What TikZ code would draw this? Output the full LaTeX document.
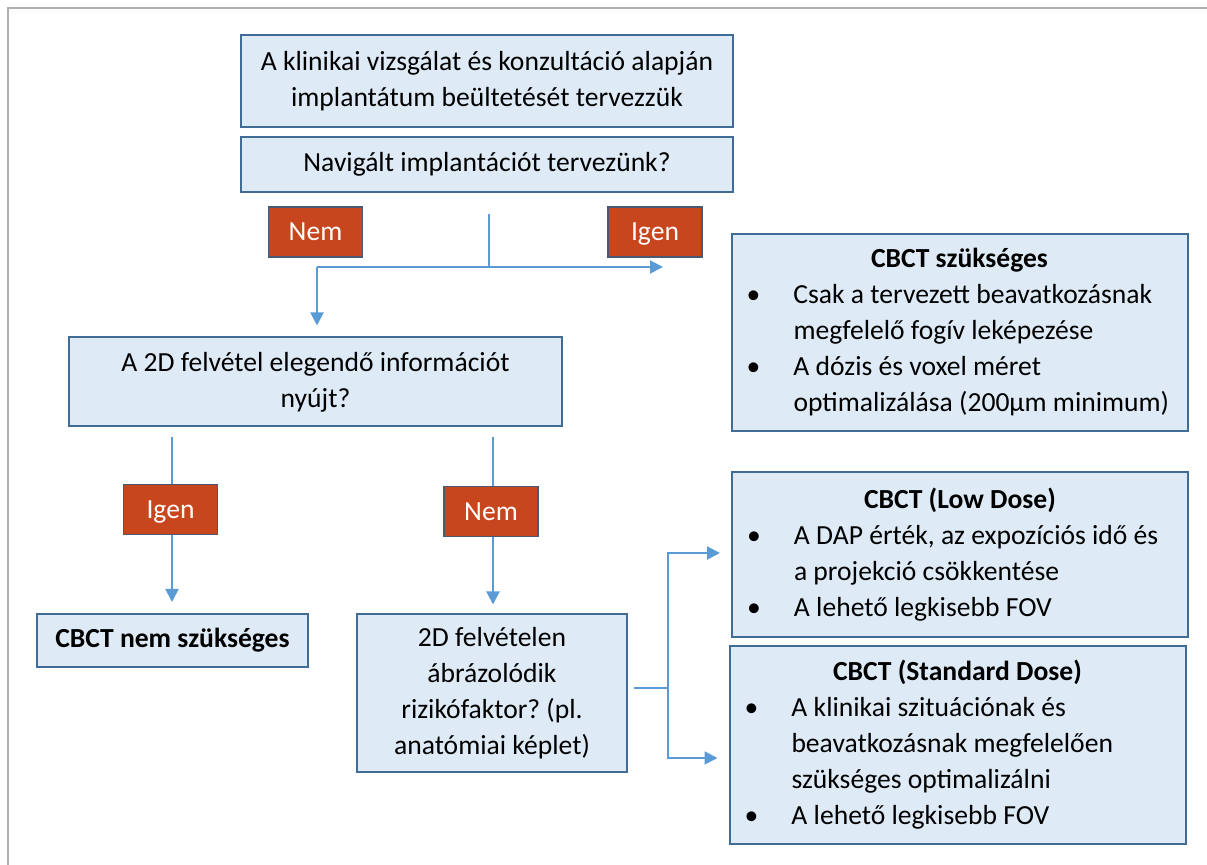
\documentclass[tikz,border=0pt]{standalone}
\usepackage{fontspec}
\setmainfont{Carlito}
\usepackage{tikz}
\usetikzlibrary{arrows.meta}
\definecolor{kastenblau}{RGB}{222,235,247}
\definecolor{kastenrand}{RGB}{65,108,150}
\definecolor{pfeilblau}{RGB}{91,155,213}
\definecolor{markerot}{RGB}{200,70,30}
\definecolor{markerand}{RGB}{75,90,115}
\definecolor{rahmengrau}{RGB}{175,175,175}
\frenchspacing
\newcommand{\fsize}{\fontsize{13.8}{18}\selectfont}
\newcommand{\pont}{\par\noindent\hangindent=31pt\hangafter=1\makebox[31pt][l]{\hspace{7.5pt}\textbullet}}

\begin{document}
\begin{tikzpicture}[x=0.5pt, y=-0.5pt,
	>={Triangle[length=6.5pt,width=6.5pt]},
	kasten/.style={draw=kastenrand, fill=kastenblau, line width=1pt, inner sep=0pt, align=center, font=\fsize},
	liste/.style={draw=kastenrand, fill=kastenblau, line width=1pt, inner sep=0pt, text width=228pt, align=flush left, font=\fsize},
	marke/.style={draw=markerand, fill=markerot, line width=0.6pt, text=white, inner sep=0pt, minimum width=47pt, minimum height=25pt, text height=11pt, text depth=2pt, font=\fsize},
	pfeil/.style={draw=pfeilblau, line width=1pt}]
	
	\useasboundingbox (0,0) rectangle (1207,865);
	% Rahmen
	\draw[rahmengrau, line width=1pt] (8,865) -- (8,8) -- (1207,8);
	
	% Kaesten
	\node[kasten, minimum width=246pt, minimum height=46pt] (start) at (487,81) {A klinikai vizsgálat és konzultáció alapján\\implantátum beültetését tervezzük};
	\node[kasten, minimum width=246pt, minimum height=27.5pt] (navq) at (487,164.5) {Navigált implantációt tervezünk?};
	\node[kasten, minimum width=246.5pt, minimum height=44.5pt] (info) at (315.5,382) {A 2D felvétel elegendő információt\\nyújt?};
	\node[kasten, minimum width=135.5pt, minimum height=26.5pt, font=\fsize\bfseries] (nemkell) at (172.5,640.5) {CBCT nem szükséges};
	\node[kasten, minimum width=135pt, minimum height=79pt] (rizik) at (492,693.5) {2D felvételen\\ábrázolódik\\rizikófaktor? (pl.\\anatómiai képlet)};
	
	\node[liste, minimum height=98.5pt] (kell) at (959.5,332.5) {{\centering\textbf{CBCT szükséges}\par}
		\pont Csak a tervezett beavatkozásnak\newline megfelelő fogív leképezése
		\pont A dózis és voxel méret\newline optimalizálása (200µm minimum)\par};
	\node[liste, minimum height=82.5pt] (low) at (960,554.5) {{\centering\textbf{CBCT (Low Dose)}\par}
		\pont A DAP érték, az expozíciós idő és\newline a projekció csökkentése
		\pont A lehető legkisebb FOV\par};
	\node[liste, minimum height=99pt] (std) at (957.5,745) {{\centering\textbf{CBCT (Standard Dose)}\par}
		\pont A klinikai szituációnak és\newline beavatkozásnak megfelelően\newline szükséges optimalizálni
		\pont A lehető legkisebb FOV\par};
	
	% Pfeile
	\coordinate (teil) at (489,214);
	\coordinate (knick) at (489,267);
	\coordinate (knickL) at (317,267);
	\coordinate (jaende) at (663,267);
	\draw[pfeil] (teil) -- (knick);
	\draw[pfeil,->] (knickL) -- (jaende);
	\draw[pfeil,->,shorten >=5.5pt] (knickL) -- (knickL |- info.north);
	
	\coordinate (infoL) at (172,437);
	\coordinate (infoR) at (493,437);
	\draw[pfeil,->,shorten >=5.5pt] (infoL) -- (infoL |- nemkell.north);
	\draw[pfeil,->,shorten >=4.5pt] (infoR) -- (infoR |- rizik.north);
	
	\coordinate (gabel) at (668,688);
	\draw[pfeil,shorten <=3pt] (rizik.east |- gabel) -- (gabel);
	\draw[pfeil,->,shorten >=5.5pt] (gabel) |- ([yshift=0.75pt]low.west);
	\draw[pfeil,->,shorten >=5.5pt] (gabel) |- ([yshift=-6.5pt]std.west);
	
	% Ja/Nein
	\node[marke] (nein1) at (315.5,232) {Nem};
	\node[marke] (ja1) at (655,232) {Igen};
	\node[marke] (ja2) at (170.5,509.5) {Igen};
	\node[marke] (nein2) at (491,511.5) {Nem};
\end{tikzpicture}
\end{document}
